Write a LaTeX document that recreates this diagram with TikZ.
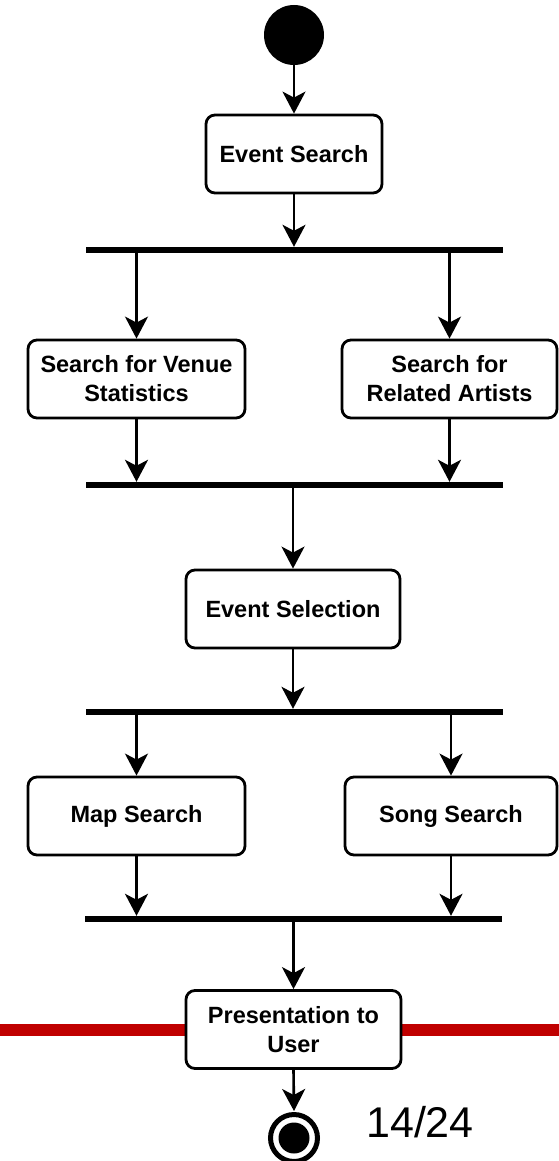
\documentclass[tikz,border=0pt]{standalone}
\usepackage{fontspec}
\setmainfont{Liberation Sans}
\usetikzlibrary{arrows.meta}

\tikzset{
  action/.style={draw=black, line width=2.8pt, rounded corners=9pt, fill=white,
    minimum height=78pt, align=center, inner sep=2pt,
    font=\bfseries\fontsize{23.5}{29}\selectfont},
  bar/.style={fill=black, draw=none, minimum width=417pt, minimum height=6pt, inner sep=0pt},
  flow/.style={line width=2.6pt, -{Stealth[length=22pt, width=23pt, inset=6pt]}},
}

\begin{document}
\begin{tikzpicture}[x=1pt, y=-1pt]
  \useasboundingbox (0,0) rectangle (559,1161);
  \clip (0,0) rectangle (559,1161);

  % divider line behind the final action
  \draw[line width=12pt, draw={rgb,255:red,192;green,0;blue,0}] (0,1030) -- (559,1030);

  % start node
  \node[circle, fill=black, minimum size=60pt, inner sep=0pt] (start) at (294,35) {};

  % actions
  \node[action, minimum width=176pt] (es) at (294,154) {Event Search};
  \node[action, minimum width=217pt] (venue) at (136.5,379) {Search for Venue\\Statistics};
  \node[action, minimum width=215pt] (artists) at (449.5,379) {Search for\\Related Artists};
  \node[action, minimum width=214pt] (sel) at (293,609) {Event Selection};
  \node[action, minimum width=217pt] (map) at (136.5,816) {Map Search};
  \node[action, minimum width=212pt] (song) at (451,816) {Song Search};
  \node[action, minimum width=215pt] (pres) at (293.5,1029.5) {Presentation to\\User};

  % fork / join bars
  \node[bar] (fork1) at (294,250) {};
  \node[bar] (join1) at (294.5,485) {};
  \node[bar] (fork2) at (294.5,712) {};
  \node[bar] (join2) at (293,919) {};

  % end node
  \node[circle, draw=white, line width=2pt, minimum size=56pt, inner sep=0pt] (endring) at (294,1138) {};
  \draw[line width=5pt] (endring.center) circle[radius=23.5pt];
  \fill (endring.center) circle[radius=15.5pt];

  % page number
  \node[font=\fontsize{43}{50}\selectfont, inner sep=0pt] (pg) at (420,1122) {14/24};

  % control flow
  \draw[flow] (start.south) -- (es.north);
  \draw[flow] (es.south) -- (fork1.north -| es.south);
  \draw[flow] (fork1.south -| venue.north) -- (venue.north);
  \draw[flow] (fork1.south -| artists.north) -- (artists.north);
  \draw[flow] (venue.south) -- (join1.north -| venue.south);
  \draw[flow] (artists.south) -- (join1.north -| artists.south);
  \draw[flow] (join1.south -| sel.north) -- (sel.north);
  \draw[flow] (sel.south) -- (fork2.north -| sel.south);
  \draw[flow] (fork2.south -| map.north) -- (map.north);
  \draw[flow] (fork2.south -| song.north) -- (song.north);
  \draw[flow] (map.south) -- (join2.north -| map.south);
  \draw[flow] (song.south) -- (join2.north -| song.south);
  \draw[flow] (join2.south -| pres.north) -- (pres.north);
  \draw[flow] (pres.south) -- ([yshift=-2pt]endring.north);
\end{tikzpicture}
\end{document}
